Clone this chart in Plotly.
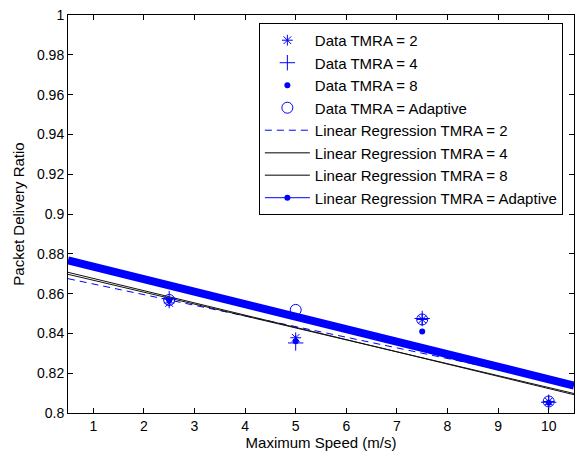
import plotly.graph_objects as go

# Maximum node speed (m/s) for each simulation batch
speeds = [2.5, 5, 7.5, 10]

# Measured packet delivery ratio per TMRA setting
pdr_tmra2 = [0.8553, 0.8378, 0.8470, 0.8058]
pdr_tmra4 = [0.8575, 0.8352, 0.8475, 0.8054]
pdr_tmra8 = [0.8566, 0.8360, 0.8409, 0.8052]
pdr_adaptive = [0.8568, 0.8518, 0.8470, 0.8058]

# Linear regression lines, evaluated at the ends of the speed axis
fit_speeds = [0.5, 10.5]
fit_tmra2 = [0.8675, 0.8140]
fit_tmra4 = [0.8697, 0.8098]
fit_tmra8 = [0.8707, 0.8092]
fit_adaptive = [0.8767, 0.8138]

x_ticks = [1, 2, 3, 4, 5, 6, 7, 8, 9, 10]
y_ticks = [0.8, 0.82, 0.84, 0.86, 0.88, 0.9, 0.92, 0.94, 0.96, 0.98, 1.0]
y_tick_text = ["0.8", "0.82", "0.84", "0.86", "0.88", "0.9", "0.92", "0.94", "0.96", "0.98", "1"]

BLUE = "#0000FF"
FONT = "Arial, Liberation Sans, sans-serif"

fig = go.Figure()

# Regression lines drawn first so the data markers sit on top
fig.add_trace(go.Scatter(x=fit_speeds, y=fit_adaptive, mode="lines",
                         line=dict(color=BLUE, width=8), showlegend=False,
                         hoverinfo="skip"))
fig.add_trace(go.Scatter(x=fit_speeds, y=fit_tmra2, mode="lines",
                         line=dict(color=BLUE, width=1, dash="7px,5px"),
                         showlegend=False, hoverinfo="skip"))
fig.add_trace(go.Scatter(x=fit_speeds, y=fit_tmra4, mode="lines",
                         line=dict(color="#111111", width=1),
                         showlegend=False, hoverinfo="skip"))
fig.add_trace(go.Scatter(x=fit_speeds, y=fit_tmra8, mode="lines",
                         line=dict(color="#111111", width=1),
                         showlegend=False, hoverinfo="skip"))

# Data points
fig.add_trace(go.Scatter(x=speeds, y=pdr_tmra2, mode="markers", name="Data TMRA = 2",
                         marker=dict(symbol="asterisk-open", size=9, color=BLUE,
                                     line=dict(color=BLUE, width=1))))
fig.add_trace(go.Scatter(x=speeds, y=pdr_tmra4, mode="markers", name="Data TMRA = 4",
                         marker=dict(symbol="cross-thin-open", size=11, color=BLUE,
                                     line=dict(color=BLUE, width=1))))
fig.add_trace(go.Scatter(x=speeds, y=pdr_tmra8, mode="markers", name="Data TMRA = 8",
                         marker=dict(symbol="circle", size=6, color=BLUE)))
fig.add_trace(go.Scatter(x=speeds, y=pdr_adaptive, mode="markers", name="Data TMRA = Adaptive",
                         marker=dict(symbol="circle-open", size=11, color=BLUE,
                                     line=dict(color=BLUE, width=1))))

# Legend entries for the regression lines
fig.add_trace(go.Scatter(x=[None], y=[None], mode="lines", name="Linear Regression TMRA = 2",
                         line=dict(color=BLUE, width=1, dash="7px,5px")))
fig.add_trace(go.Scatter(x=[None], y=[None], mode="lines", name="Linear Regression TMRA = 4",
                         line=dict(color="#555555", width=1.5)))
fig.add_trace(go.Scatter(x=[None], y=[None], mode="lines", name="Linear Regression TMRA = 8",
                         line=dict(color="#555555", width=1.5)))
fig.add_trace(go.Scatter(x=[None], y=[None], mode="lines+markers",
                         name="Linear Regression TMRA = Adaptive",
                         line=dict(color=BLUE, width=1),
                         marker=dict(symbol="circle", size=6, color=BLUE)))

axis_common = dict(
    showline=True, linecolor="black", linewidth=1, mirror="ticks",
    ticks="inside", ticklen=5, tickcolor="black", tickwidth=1,
    showgrid=False, zeroline=False,
    tickfont=dict(family=FONT, size=14, color="black"),
)

fig.update_layout(
    width=575, height=455,
    margin=dict(l=68, r=1, t=15, b=42),
    paper_bgcolor="white", plot_bgcolor="white",
    font=dict(family=FONT, size=15, color="black"),
    xaxis=dict(range=[0.5, 10.5], tickvals=x_ticks,
               title=dict(text="Maximum Speed (m/s)", font=dict(size=15), standoff=4),
               **axis_common),
    yaxis=dict(range=[0.8, 1.0], tickvals=y_ticks, ticktext=y_tick_text,
               title=dict(text="Packet Delivery Ratio", font=dict(size=15), standoff=8),
               **axis_common),
    legend=dict(x=0.978, y=0.98, xanchor="right", yanchor="top",
                bgcolor="white", bordercolor="black", borderwidth=1,
                font=dict(family=FONT, size=15, color="black"),
                itemwidth=45, tracegroupgap=0),
    showlegend=True,
)

fig.write_html("out.html")
